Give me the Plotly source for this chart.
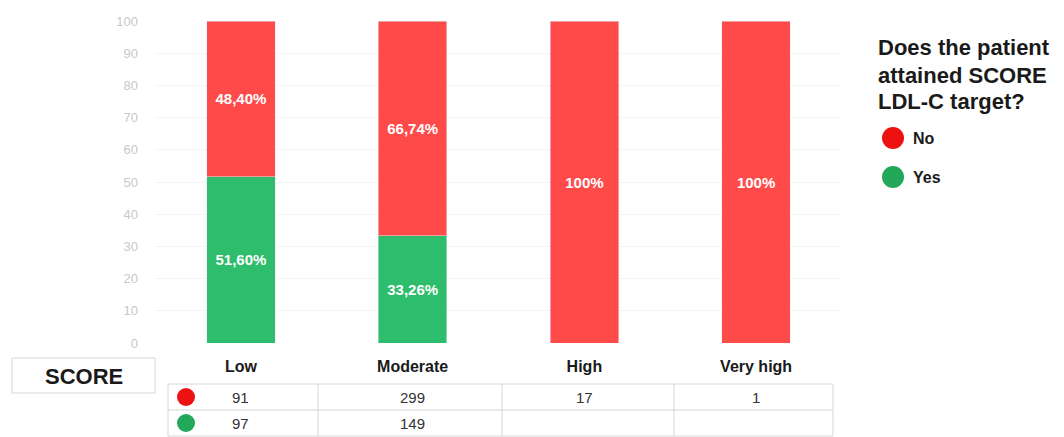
import plotly.graph_objects as go

# Patient counts per SCORE risk category
categories = ["Low", "Moderate", "High", "Very high"]
count_no = [91, 299, 17, 1]
count_yes = [97, 149, 0, 0]

totals = [n + y for n, y in zip(count_no, count_yes)]
pct_no = [100 * n / t for n, t in zip(count_no, totals)]
pct_yes = [100 * y / t for y, t in zip(count_yes, totals)]


def fmt_pct(v):
    if v == 0:
        return ""
    if abs(v - 100) < 1e-9:
        return "100%"
    return f"{v:.2f}".replace(".", ",") + "%"


RED_BAR = "#FF4A4A"
GREEN_BAR = "#2EBD6C"
RED_DOT = "#EE1111"
GREEN_DOT = "#23A85A"
FONT = "Liberation Sans, Arial, sans-serif"

W, H = 1064, 437
L, R, T, B = 155, 222, 21, 94
PW, PH = W - L - R, H - T - B


def px(x):
    return (x - L) / PW


def py(y):
    return (H - B - y) / PH


fig = go.Figure()
fig.add_bar(
    x=categories, y=pct_yes, name="Yes", marker_color=GREEN_BAR,
    text=[fmt_pct(v) for v in pct_yes], textposition="inside",
    insidetextanchor="middle",
    textfont=dict(color="white", size=15, family=FONT, weight="bold"),
    width=0.4,
)
fig.add_bar(
    x=categories, y=pct_no, name="No", marker_color=RED_BAR,
    text=[fmt_pct(v) for v in pct_no], textposition="inside",
    insidetextanchor="middle",
    textfont=dict(color="white", size=15, family=FONT, weight="bold"),
    width=0.4,
)

shapes = []
annotations = []


def label(x, y, text, size, color="#1A1A1A", xanchor="center", xref="paper"):
    annotations.append(dict(x=x, y=y, xref=xref, yref="paper",
                            xanchor=xanchor, yanchor="middle",
                            text=text, showarrow=False,
                            font=dict(size=size, color=color, family=FONT)))


# Table grid under the chart
line_style = dict(color="#D6D6D6", width=1)
tbl_x = [168, 318, 502, 674, 833]
tbl_y = [384, 410, 436]
for yy in tbl_y:
    shapes.append(dict(type="line", xref="paper", yref="paper",
                       x0=px(tbl_x[0]), x1=px(tbl_x[-1]), y0=py(yy), y1=py(yy),
                       line=line_style))
for xx in tbl_x:
    shapes.append(dict(type="line", xref="paper", yref="paper",
                       x0=px(xx), x1=px(xx), y0=py(tbl_y[0]), y1=py(tbl_y[-1]),
                       line=line_style))

# Row markers
for yc, col in [(397, RED_DOT), (423, GREEN_DOT)]:
    shapes.append(dict(type="circle", xref="paper", yref="paper",
                       xsizemode="pixel", ysizemode="pixel",
                       xanchor=px(186), yanchor=py(yc),
                       x0=-9, x1=9, y0=-9, y1=9,
                       fillcolor=col, line=dict(width=0)))

# Row values
for row_vals, yc in [(count_no, 397), (count_yes, 423)]:
    for cat, v in zip(categories, row_vals):
        if v == 0:
            continue
        label(cat, py(yc), str(v), 15, color="#333333", xref="x")

# SCORE label box
shapes.append(dict(type="rect", xref="paper", yref="paper",
                   x0=px(12), x1=px(155), y0=py(358), y1=py(393),
                   line=dict(color="#D6D6D6", width=1), fillcolor="white"))
label(px(84), py(376), "<b>SCORE</b>", 22)

# Legend
title_lines = ["Does the patient", "attained SCORE", "LDL-C target?"]
for line, yc in zip(title_lines, [47, 75, 102]):
    label(px(876), py(yc), f"<b>{line}</b>", 22, xanchor="left")
for name, col, yc in [("No", RED_DOT, 138), ("Yes", GREEN_DOT, 177)]:
    shapes.append(dict(type="circle", xref="paper", yref="paper",
                       xsizemode="pixel", ysizemode="pixel",
                       xanchor=px(893), yanchor=py(yc),
                       x0=-11, x1=11, y0=-11, y1=11,
                       fillcolor=col, line=dict(width=0)))
    label(px(911), py(yc), f"<b>{name}</b>", 16, xanchor="left")

fig.update_layout(
    width=W, height=H,
    margin=dict(l=L, r=R, t=T, b=B),
    barmode="stack",
    showlegend=False,
    plot_bgcolor="white",
    paper_bgcolor="white",
    font=dict(family=FONT),
    shapes=shapes,
    annotations=annotations,
    xaxis=dict(
        range=[-0.5, 3.5], showgrid=False, showline=False, ticks="",
        tickfont=dict(size=16, color="#1A1A1A", family=FONT, weight="bold"),
        ticklabelstandoff=12,
    ),
    yaxis=dict(
        range=[0, 100], dtick=10, showgrid=True, gridcolor="#F4F4F4",
        zeroline=False, showline=False, ticks="",
        tickfont=dict(size=13, color="#C8C8C8", family=FONT),
        ticklabelstandoff=16,
    ),
)

fig.write_html("out.html")
